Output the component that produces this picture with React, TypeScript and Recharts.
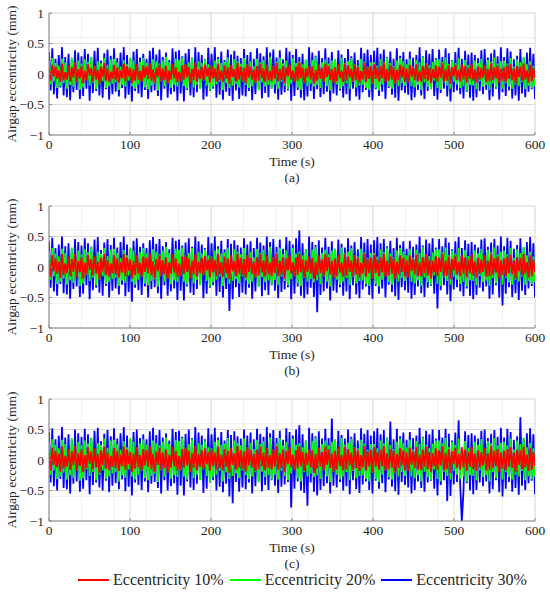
import { LineChart, Line, XAxis, YAxis, CartesianGrid } from 'recharts';

// airgap eccentricity samples, in 0.01 mm, evenly spaced over 0..600 s
const timeMax = 600;

const redA = [
  9, -11, 15, -4, 12, -8, 6, -13, 17, -10, 3, -9, 14, -12, 11, -6, 19, -14, 8, -7,
  13, -15, 5, -10, 16, -3, 10, -12, 14, -9, 7, -16, 12, -5, 18, -11, 9, -13, 4, -8,
  15, -10, 11, -14, 6, -7, 17, -12, 13, -4, 10, -15, 8, -11, 16, -9, 5, -13, 14, -6,
  12, -8, 18, -11, 7, -14, 10, -5, 15, -12, 9, -10, 13, -16, 6, -9, 17, -7, 11, -13,
  4, -12, 14, -9, 16, -6, 11, -15, 8, -10, 19, -13, 7, -8, 12, -11, 15, -4, 10, -14,
  13, -7, 9, -12, 17, -10, 6, -13, 14, -8, 11, -16, 15, -5, 8, -12, 18, -9, 12, -11,
  10, -15, 16, -6, 12, -9, 7, -14, 13, -11, 17, -7, 9, -13, 15, -10, 5, -12, 14, -8,
  18, -12, 8, -10, 13, -15, 11, -4, 16, -9, 6, -13, 12, -11, 19, -7, 10, -14, 9, -6,
  14, -9, 12, -16, 7, -11, 15, -8, 10, -13, 17, -5, 13, -10, 8, -15, 11, -12, 16, -7,
  6, -13, 17, -11, 14, -6, 9, -12, 15, -10, 12, -14, 5, -9, 18, -13, 11, -8, 13, -15,
  16, -8, 10, -12, 13, -7, 19, -14, 8, -11, 14, -9, 11, -16, 7, -10, 15, -6, 12, -13,
  9, -14, 15, -5, 11, -10, 16, -12, 6, -13, 13, -8, 17, -11, 10, -15, 8, -7, 14, -12,
  12, -6, 18, -13, 9, -11, 14, -16, 11, -4, 15, -10, 7, -12, 16, -9, 13, -14, 10, -8,
  17, -11, 7, -14, 12, -9, 10, -6, 15, -13, 8, -12, 18, -10, 11, -7, 14, -15, 9, -11,
  11, -13, 14, -8, 16, -10, 9, -15, 13, -5, 12, -11, 17, -9, 6, -14, 15, -12, 10, -7,
];
const greenA = [
  21, -17, 26, -12, 18, -23, 14, -20, 25, -15, 19, -24, 11, -18, 27, -21, 16, -13, 22, -26,
  17, -22, 24, -10, 20, -19, 28, -14, 13, -25, 21, -17, 18, -12, 26, -23, 15, -20, 24, -16,
  25, -14, 19, -26, 12, -18, 23, -21, 16, -11, 27, -20, 22, -24, 14, -17, 20, -13, 26, -22,
  18, -25, 13, -19, 24, -16, 21, -27, 17, -12, 22, -20, 28, -15, 19, -23, 11, -18, 25, -21,
  23, -12, 27, -20, 15, -24, 19, -14, 26, -22, 13, -17, 21, -25, 18, -11, 24, -19, 16, -27,
  14, -21, 22, -17, 25, -13, 18, -26, 20, -15, 27, -23, 12, -19, 24, -16, 21, -22, 17, -12,
  26, -18, 16, -23, 21, -20, 13, -15, 25, -27, 19, -14, 23, -21, 15, -18, 28, -24, 11, -17,
  20, -24, 27, -13, 17, -19, 22, -25, 14, -16, 26, -11, 18, -22, 21, -26, 16, -15, 24, -20,
  12, -16, 23, -21, 28, -18, 15, -23, 19, -12, 24, -20, 17, -27, 22, -14, 25, -17, 13, -24,
  27, -20, 18, -15, 21, -25, 26, -13, 16, -22, 14, -19, 25, -18, 20, -23, 12, -26, 19, -16,
  19, -23, 14, -27, 24, -17, 20, -12, 27, -21, 18, -24, 13, -16, 22, -20, 26, -15, 21, -19,
  16, -13, 25, -20, 12, -22, 23, -18, 19, -26, 28, -14, 17, -21, 15, -25, 20, -11, 24, -23,
  24, -26, 20, -14, 27, -19, 16, -24, 22, -13, 18, -17, 26, -23, 11, -20, 23, -27, 15, -18,
  13, -19, 22, -25, 18, -12, 25, -21, 14, -18, 23, -26, 20, -15, 27, -22, 17, -13, 21, -24,
  22, -15, 17, -21, 26, -24, 12, -17, 24, -20, 19, -13, 28, -25, 16, -19, 21, -23, 14, -20,
];
const blueA = [
  36, -27, 42, -33, 25, -40, 31, -22, 44, -35, 28, -38, 33, -43, 24, -30, 39, -26, 35, -41,
  29, -36, 41, -24, 33, -44, 27, -31, 38, -28, 43, -35, 22, -39, 34, -25, 40, -42, 30, -33,
  42, -29, 26, -37, 35, -23, 44, -40, 31, -34, 24, -45, 37, -28, 41, -32, 27, -38, 33, -26,
  25, -41, 38, -30, 43, -27, 32, -36, 40, -43, 28, -24, 35, -39, 23, -33, 42, -29, 37, -44,
  39, -32, 29, -45, 34, -26, 41, -35, 27, -38, 44, -30, 36, -23, 31, -42, 25, -37, 43, -28,
  33, -24, 44, -39, 28, -34, 37, -42, 23, -29, 40, -36, 32, -44, 38, -27, 30, -41, 26, -35,
  41, -37, 31, -28, 36, -43, 25, -33, 42, -25, 34, -40, 29, -31, 44, -38, 35, -24, 40, -32,
  27, -42, 39, -34, 24, -30, 43, -27, 37, -44, 31, -36, 41, -26, 28, -39, 33, -43, 23, -37,
  44, -28, 35, -41, 30, -25, 38, -38, 26, -33, 42, -29, 27, -45, 36, -32, 24, -35, 39, -27,
  32, -39, 26, -33, 41, -44, 29, -24, 35, -37, 23, -42, 43, -30, 34, -26, 40, -38, 31, -43,
  38, -25, 43, -36, 33, -29, 40, -41, 28, -23, 37, -34, 25, -39, 42, -44, 30, -27, 36, -31,
  24, -34, 37, -43, 27, -38, 31, -26, 44, -35, 29, -41, 39, -28, 33, -25, 41, -36, 26, -42,
  40, -31, 28, -24, 42, -37, 34, -45, 23, -30, 36, -27, 43, -33, 25, -40, 38, -29, 32, -39,
  35, -44, 31, -38, 26, -28, 39, -33, 41, -26, 27, -43, 34, -37, 40, -24, 29, -42, 44, -30,
  28, -36, 42, -27, 37, -40, 24, -35, 30, -44, 41, -32, 26, -38, 35, -29, 43, -25, 33, -41,
];

const redB = [
  12, -16, 19, -7, 14, -11, 9, -18, 21, -13, 6, -10, 17, -15, 13, -8, 22, -17, 10, -9,
  16, -19, 7, -12, 20, -5, 13, -14, 18, -11, 9, -20, 15, -7, 21, -13, 11, -16, 6, -10,
  19, -12, 14, -17, 8, -9, 21, -15, 16, -6, 12, -19, 10, -13, 20, -11, 7, -16, 17, -8,
  15, -10, 22, -14, 9, -18, 13, -7, 19, -15, 11, -12, 16, -20, 8, -11, 21, -9, 14, -16,
  6, -15, 17, -11, 20, -8, 14, -19, 10, -12, 22, -16, 9, -10, 15, -14, 18, -6, 12, -17,
  16, -9, 11, -15, 21, -12, 8, -16, 17, -10, 14, -20, 19, -7, 10, -15, 22, -11, 15, -13,
  13, -18, 20, -8, 15, -11, 9, -17, 16, -14, 21, -9, 11, -16, 19, -12, 7, -15, 17, -10,
  22, -15, 10, -12, 16, -19, 14, -6, 20, -11, 8, -16, 15, -13, 21, -9, 12, -17, 11, -8,
  17, -11, 15, -20, 9, -13, 19, -10, 12, -16, 21, -7, 16, -12, 10, -18, 14, -15, 20, -9,
  8, -16, 21, -14, 17, -8, 11, -15, 19, -12, 15, -17, 7, -11, 22, -16, 13, -10, 16, -19,
  20, -10, 12, -15, 16, -9, 22, -17, 10, -14, 17, -11, 14, -20, 9, -12, 19, -8, 15, -16,
  11, -17, 19, -7, 13, -12, 20, -15, 8, -16, 16, -10, 21, -14, 12, -19, 10, -9, 18, -15,
  15, -8, 22, -16, 11, -14, 17, -20, 13, -6, 19, -12, 9, -15, 20, -11, 16, -17, 12, -10,
  21, -14, 9, -17, 15, -11, 12, -8, 19, -16, 10, -15, 22, -12, 14, -9, 17, -19, 11, -13,
  14, -16, 17, -10, 20, -12, 11, -19, 16, -7, 15, -14, 21, -11, 8, -17, 19, -15, 12, -9,
];
const greenB = [
  26, -21, 31, -15, 22, -28, 17, -24, 30, -19, 23, -29, 14, -22, 32, -26, 19, -16, 27, -31,
  21, -27, 29, -13, 24, -23, 33, -17, 16, -30, 25, -21, 22, -15, 31, -28, 18, -24, 29, -20,
  30, -18, 23, -31, 15, -22, 28, -26, 19, -14, 32, -24, 27, -29, 17, -21, 24, -16, 31, -27,
  22, -30, 16, -23, 29, -20, 25, -32, 21, -15, 27, -24, 33, -18, 23, -28, 14, -22, 30, -25,
  28, -15, 32, -24, 18, -29, 23, -17, 31, -27, 16, -21, 25, -30, 22, -14, 29, -23, 19, -32,
  17, -25, 27, -21, 30, -16, 22, -31, 24, -18, 32, -28, 15, -23, 29, -20, 25, -27, 21, -15,
  31, -22, 19, -28, 25, -24, 16, -18, 30, -33, 23, -17, 28, -25, 18, -22, 33, -29, 14, -21,
  24, -29, 32, -16, 21, -23, 27, -30, 17, -20, 31, -14, 22, -27, 25, -31, 19, -18, 29, -24,
  15, -20, 28, -25, 33, -22, 18, -28, 23, -15, 29, -24, 21, -32, 27, -17, 30, -21, 16, -29,
  32, -24, 22, -18, 25, -30, 31, -16, 19, -27, 17, -23, 30, -22, 24, -28, 15, -31, 23, -19,
  23, -28, 17, -32, 29, -21, 24, -15, 32, -25, 22, -29, 16, -20, 27, -24, 31, -18, 25, -23,
  19, -16, 30, -24, 15, -27, 28, -22, 23, -31, 33, -17, 21, -25, 18, -30, 24, -14, 29, -28,
  29, -31, 24, -17, 32, -23, 19, -29, 27, -16, 22, -21, 31, -28, 14, -24, 28, -32, 18, -22,
  16, -23, 27, -30, 22, -15, 30, -25, 17, -22, 28, -31, 24, -18, 32, -27, 21, -16, 25, -29,
  27, -18, 21, -25, 31, -29, 15, -21, 29, -24, 23, -16, 33, -30, 19, -23, 25, -28, 17, -24,
];
const blueB = [
  42, -34, 48, -40, 31, -47, 37, -28, 50, -43, 34, -45, 39, -52, 30, -36, 46, -32, 41, -49,
  35, -44, 47, -30, 39, -53, 33, -38, 45, -34, 49, -42, 28, -47, 40, -31, 46, -50, 36, -39,
  48, -35, 32, -45, 41, -29, 50, -48, 37, -41, 30, -57, 43, -34, 47, -38, 33, -46, 39, -32,
  31, -50, 44, -36, 49, -33, 38, -43, 46, -52, 34, -30, 41, -47, 29, -40, 48, -35, 43, -54,
  45, -39, 35, -55, 40, -32, 47, -42, 33, -46, 50, -36, 42, -29, 37, -51, 31, -44, 49, -34,
  39, -30, 50, -47, 34, -41, 43, -50, 29, -36, 46, -72, 38, -53, 44, -33, 36, -49, 32, -42,
  47, -45, 37, -34, 42, -52, 31, -40, 48, -31, 40, -48, 35, -38, 50, -46, 41, -30, 46, -39,
  33, -51, 45, -41, 30, -37, 49, -33, 43, -53, 37, -44, 47, -32, 60, -47, 39, -51, 29, -45,
  50, -34, 41, -49, 36, -74, 44, -46, 32, -40, 48, -35, 33, -55, 42, -39, 30, -42, 45, -33,
  38, -47, 32, -40, 47, -53, 35, -30, 41, -45, 29, -51, 49, -37, 40, -32, 46, -46, 37, -52,
  44, -31, 49, -44, 39, -35, 46, -50, 34, -29, 43, -41, 31, -48, 48, -54, 36, -33, 42, -38,
  30, -42, 43, -52, 33, -46, 37, -32, 50, -43, 35, -49, 45, -34, 39, -31, 47, -44, 32, -68,
  46, -38, 34, -30, 48, -45, 40, -56, 29, -37, 42, -33, 49, -40, 31, -48, 44, -35, 38, -47,
  41, -53, 37, -46, 32, -34, 45, -40, 47, -32, 33, -52, 40, -45, 46, -30, 35, -50, 50, -63,
  34, -44, 48, -33, 43, -49, 30, -43, 36, -54, 47, -39, 32, -46, 41, -35, 49, -31, 39, -50,
];

const redC = [
  13, -17, 20, -8, 15, -12, 10, -19, 22, -14, 7, -11, 18, -16, 14, -9, 23, -18, 11, -10,
  17, -20, 8, -13, 21, -6, 14, -15, 19, -12, 10, -21, 16, -8, 22, -14, 12, -17, 7, -11,
  20, -13, 15, -18, 9, -10, 22, -16, 17, -7, 13, -20, 11, -14, 21, -12, 8, -17, 18, -9,
  16, -11, 23, -15, 10, -19, 14, -8, 20, -16, 12, -13, 17, -21, 9, -12, 22, -10, 15, -17,
  7, -16, 18, -12, 21, -9, 15, -20, 11, -13, 23, -17, 10, -11, 16, -15, 19, -7, 13, -18,
  17, -10, 12, -16, 22, -13, 9, -17, 18, -11, 15, -21, 20, -8, 11, -16, 23, -12, 16, -14,
  14, -19, 21, -9, 16, -12, 10, -18, 17, -15, 22, -10, 12, -17, 20, -13, 8, -16, 18, -11,
  23, -16, 11, -13, 17, -20, 15, -7, 21, -12, 9, -17, 16, -14, 22, -10, 13, -18, 12, -9,
  18, -12, 16, -21, 10, -14, 20, -11, 13, -17, 22, -8, 17, -13, 11, -19, 15, -16, 21, -10,
  9, -17, 22, -15, 18, -9, 12, -16, 20, -13, 16, -18, 8, -12, 23, -17, 14, -11, 17, -20,
  21, -11, 13, -16, 17, -10, 23, -18, 11, -15, 18, -12, 15, -21, 10, -13, 20, -9, 16, -17,
  12, -18, 20, -8, 14, -13, 21, -16, 9, -17, 17, -11, 22, -15, 13, -20, 11, -10, 19, -16,
  16, -9, 23, -17, 12, -15, 18, -21, 14, -7, 20, -13, 10, -16, 21, -12, 17, -18, 13, -11,
  22, -15, 10, -18, 16, -12, 13, -9, 20, -17, 11, -16, 23, -13, 15, -10, 18, -20, 12, -14,
  15, -17, 18, -11, 21, -13, 12, -20, 17, -8, 16, -15, 22, -12, 9, -18, 20, -16, 13, -10,
];
const greenC = [
  29, -24, 34, -17, 25, -31, 19, -27, 33, -21, 26, -32, 16, -25, 36, -29, 21, -18, 30, -34,
  24, -30, 32, -15, 27, -26, 37, -19, 18, -33, 28, -24, 25, -17, 35, -31, 20, -27, 32, -22,
  33, -20, 26, -35, 17, -25, 31, -29, 21, -16, 36, -27, 30, -32, 19, -24, 27, -18, 34, -30,
  25, -33, 18, -26, 32, -22, 28, -36, 24, -17, 30, -27, 37, -20, 26, -31, 16, -25, 33, -28,
  31, -17, 36, -27, 20, -32, 26, -19, 34, -30, 18, -24, 28, -33, 25, -16, 32, -26, 21, -36,
  19, -28, 30, -24, 33, -18, 25, -35, 27, -20, 36, -31, 17, -26, 32, -22, 28, -30, 24, -17,
  35, -25, 21, -31, 28, -27, 18, -20, 33, -37, 26, -19, 31, -28, 20, -25, 37, -32, 16, -24,
  27, -32, 36, -18, 24, -26, 30, -33, 19, -22, 35, -16, 25, -30, 28, -35, 21, -20, 32, -27,
  17, -22, 31, -28, 37, -25, 20, -31, 26, -17, 32, -27, 24, -36, 30, -19, 34, -24, 18, -32,
  36, -27, 25, -20, 28, -33, 35, -18, 21, -30, 19, -26, 33, -25, 27, -31, 17, -35, 26, -21,
  26, -31, 19, -36, 32, -24, 27, -17, 36, -28, 25, -32, 18, -22, 30, -27, 35, -20, 28, -26,
  21, -18, 33, -27, 17, -30, 31, -25, 26, -35, 37, -19, 24, -28, 20, -33, 27, -16, 32, -31,
  32, -35, 27, -19, 36, -26, 21, -32, 30, -18, 25, -24, 35, -31, 16, -27, 31, -36, 20, -25,
  18, -26, 30, -33, 25, -17, 34, -28, 19, -25, 31, -35, 27, -20, 36, -30, 24, -18, 28, -32,
  30, -20, 24, -28, 35, -32, 17, -24, 32, -27, 26, -18, 37, -33, 21, -26, 28, -31, 19, -27,
];
const blueC = [
  46, -37, 52, -43, 34, -50, 40, -31, 54, -46, 37, -48, 42, -55, 33, -39, 50, -35, 44, -52,
  38, -47, 51, -33, 42, -56, 36, -41, 48, -37, 53, -45, 31, -50, 43, -34, 49, -53, 39, -42,
  52, -38, 35, -48, 44, -32, 54, -51, 40, -44, 33, -58, 46, -37, 50, -41, 36, -49, 42, -35,
  34, -53, 47, -39, 53, -36, 41, -46, 49, -55, 37, -33, 44, -50, 32, -43, 51, -38, 46, -57,
  48, -42, 38, -58, 43, -35, 50, -45, 36, -49, 54, -39, 45, -32, 40, -54, 34, -47, 52, -37,
  42, -33, 53, -50, 37, -44, 46, -53, 32, -39, 49, -60, 41, -71, 47, -36, 39, -52, 35, -45,
  50, -48, 40, -37, 45, -55, 34, -43, 51, -34, 43, -51, 38, -41, 54, -49, 44, -33, 49, -42,
  36, -54, 48, -44, 33, -40, 52, -36, 46, -78, 40, -47, 50, -35, 57, -50, 42, -54, 32, -75,
  53, -37, 44, -52, 39, -58, 47, -49, 35, -43, 51, -38, 36, -55, 68, -42, 33, -45, 48, -36,
  41, -50, 35, -43, 50, -56, 38, -33, 44, -48, 32, -54, 52, -40, 43, -35, 49, -49, 40, -55,
  47, -34, 52, -47, 42, -38, 49, -53, 37, -32, 63, -44, 34, -51, 51, -57, 39, -36, 45, -41,
  33, -45, 46, -55, 36, -49, 40, -35, 53, -46, 38, -52, 48, -37, 42, -34, 50, -47, 35, -58,
  49, -41, 37, -33, 51, -67, 43, -59, 32, -40, 45, -36, 65, -43, -100, -51, 47, -38, 41, -50,
  44, -56, 40, -49, 35, -37, 48, -43, 50, -35, 36, -55, 43, -48, 49, -33, 38, -53, 53, -60,
  37, -47, 51, -36, 46, -52, 33, -46, 39, -57, 70, -42, 35, -49, 44, -38, 52, -34, 42, -56,
];

const xTicks = [0, 100, 200, 300, 400, 500, 600];
const yTicks = [-1, -0.5, 0, 0.5, 1];
const xMinor = Array.from({ length: 31 }, (_, i) => i * 20);
const yMinor = Array.from({ length: 21 }, (_, i) => -1 + i * 0.1);

const seriesNames = ['Eccentricity 10%', 'Eccentricity 20%', 'Eccentricity 30%'];
const seriesColors = ['#ff0000', '#00ff00', '#0000ff'];

const panels = [
  { tag: '(a)', top: 0, red: redA, green: greenA, blue: blueA },
  { tag: '(b)', top: 193, red: redB, green: greenB, blue: blueB },
  { tag: '(c)', top: 386, red: redC, green: greenC, blue: blueC },
];

const FONT = '"Liberation Serif", "Times New Roman", serif';
const AXIS = '#8a8a8a';
const TEXT = '#262626';

const toPoints = (vals: number[]) =>
  vals.map((v, i) => ({ t: (i * timeMax) / (vals.length - 1), v: v / 100 }));

const fmtY = (v: number) => (v < 0 ? '\u2212' + Math.abs(v) : String(v));

const caption = { position: 'absolute' as const, left: 192, width: 200, textAlign: 'center' as const, fontSize: 13.5, lineHeight: '14px', color: TEXT, fontFamily: FONT };

function Panel({ tag, top, red, green, blue }: { tag: string; top: number; red: number[]; green: number[]; blue: number[] }) {
  const lines = [
    { key: 'blue', data: toPoints(blue), color: seriesColors[2] },
    { key: 'green', data: toPoints(green), color: seriesColors[1] },
    { key: 'red', data: toPoints(red), color: seriesColors[0] },
  ];
  return (
    <div style={{ position: 'absolute', left: 0, top, width: 550, height: 186 }}>
      <LineChart width={550} height={155} margin={{ top: 13, right: 15, bottom: 0, left: 0 }}>
        <CartesianGrid stroke="#efefef" horizontalValues={yMinor} verticalValues={xMinor} />
        <CartesianGrid stroke="#dcdcdc" horizontalValues={yTicks} verticalValues={xTicks} />
        <XAxis
          dataKey="t"
          type="number"
          domain={[0, timeMax]}
          ticks={xTicks}
          allowDataOverflow
          height={20}
          stroke={AXIS}
          tickSize={-3}
          tickMargin={7}
          tick={{ fill: TEXT, fontSize: 13.5, fontFamily: FONT }}
        />
        <XAxis xAxisId="top" orientation="top" type="number" domain={[0, timeMax]} ticks={xTicks} height={0} stroke={AXIS} tickSize={-3} tick={false} />
        <YAxis
          type="number"
          domain={[-1, 1]}
          ticks={yTicks}
          allowDataOverflow
          width={49}
          stroke={AXIS}
          tickSize={-3}
          tickMargin={8}
          tickFormatter={fmtY}
          tick={{ fill: TEXT, fontSize: 13.5, fontFamily: FONT }}
          label={{
            value: 'Airgap eccentricity (mm)',
            angle: -90,
            position: 'insideLeft',
            offset: 11,
            style: { textAnchor: 'middle', fill: TEXT, fontSize: 13.5, fontFamily: FONT },
          }}
        />
        <YAxis yAxisId="right" orientation="right" type="number" domain={[-1, 1]} ticks={yTicks} width={0} stroke={AXIS} tickSize={-3} tick={false} />
        {lines.map((l) => (
          <Line
            key={l.key}
            data={l.data}
            dataKey="v"
            type="linear"
            stroke={l.color}
            strokeWidth={1.8}
            strokeLinejoin="bevel"
            dot={false}
            isAnimationActive={false}
          />
        ))}
      </LineChart>
      <div style={{ ...caption, top: 155 }}>Time (s)</div>
      <div style={{ ...caption, top: 171 }}>{tag}</div>
    </div>
  );
}

export default function App() {
  return (
    <div style={{ position: 'absolute', left: 0, top: 0, width: 550, height: 593, background: '#fff', fontFamily: FONT }}>
      {panels.map((p) => (
        <Panel key={p.tag} {...p} />
      ))}
      <div style={{ position: 'absolute', left: 78, top: 572, height: 16, display: 'flex', alignItems: 'center', fontSize: 16, lineHeight: '16px', color: TEXT }}>
        {seriesNames.map((name, i) => (
          <div key={name} style={{ display: 'flex', alignItems: 'center', marginRight: 6 }}>
            <div style={{ width: 31, height: 1.5, background: seriesColors[i], marginRight: 4 }} />
            <span>{name}</span>
          </div>
        ))}
      </div>
    </div>
  );
}
